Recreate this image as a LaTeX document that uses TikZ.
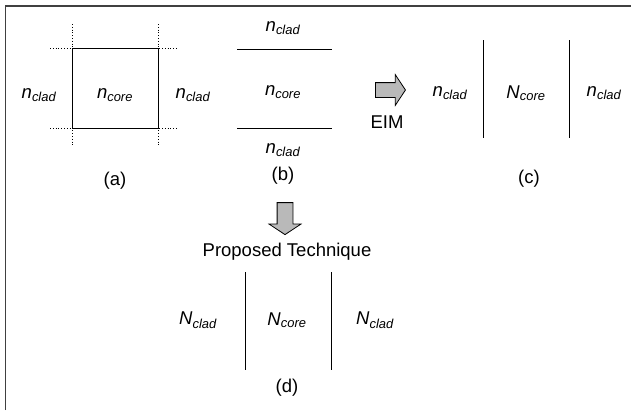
\documentclass[tikz,border=0pt]{standalone}
\usepackage{fontspec}
\setmainfont{Liberation Sans}
\usetikzlibrary{shapes,
                arrows,
                positioning}
\tikzset{index-text/.style =
   {inner sep=0pt,
    font=\fontsize{18.5}{20}\selectfont\itshape}}
\tikzset{caption-text/.style =
   {inner sep=0pt,
    font=\fontsize{18.5}{20}\selectfont}}
\tikzset{layer-line/.style =
   {draw,
    line width=1pt}}
\tikzset{guide-line/.style =
   {draw,
    dotted,
    line width=0.8pt}}
\tikzset{block-arrow/.style =
   {single arrow,
    draw,
    fill=gray!55,
    inner xsep=0pt,
    inner ysep=7pt,
    single arrow head extend=8pt,
    single arrow tip angle=113,
    line width=0.8pt}}
\newcommand{\ind}[2]{#1\textsubscript{#2}}

\begin{document}
\begin{tikzpicture}[x=1pt,y=-1pt]

    \useasboundingbox (0,0) rectangle (631,410);
    \draw [line width=1.5pt, black!75] (5.5,410) -- (5.5,6) -- (631,6);

    % (a)
    \draw [guide-line] (72,24) -- (72,146);
    \draw [guide-line] (158,24) -- (158,146);
    \draw [guide-line] (50,48) -- (178,48);
    \draw [guide-line] (50,128) -- (178,128);
    \draw [layer-line] (72,48) rectangle (158,128);
    \node [index-text] (a-left)  at (39,95)  {\ind{n}{clad}};
    \node [index-text] (a-core)  at (115,95) {\ind{n}{core}};
    \node [index-text] (a-right) at (193,95) {\ind{n}{clad}};
    \node [caption-text] (a-cap) at (115,181) {(a)};

    % (b)
    \draw [layer-line] (237,49) -- (332,49);
    \draw [layer-line] (237,128) -- (332,128);
    \node [index-text] (b-top)  at (283,28)  {\ind{n}{clad}};
    \node [index-text] (b-core) at (283,92)  {\ind{n}{core}};
    \node [index-text] (b-bot)  at (283,150) {\ind{n}{clad}};
    \node [caption-text] (b-cap) at (283,176) {(b)};

    % EIM
    \node [block-arrow,
           minimum height=30pt] (eim-arrow) at (388,90) {};
    \node [caption-text] (eim) at (387,122) {EIM};

    % (c)
    \draw [layer-line] (483,40) -- (483,138);
    \draw [layer-line] (569,40) -- (569,138);
    \node [index-text] (c-left)  at (450,93) {\ind{n}{clad}};
    \node [index-text] (c-core)  at (526,93) {\ind{N}{core}};
    \node [index-text] (c-right) at (604,93) {\ind{n}{clad}};
    \node [caption-text] (c-cap) at (529,179) {(c)};

    % proposed technique
    \node [block-arrow,
           shape border rotate=270,
           inner xsep=7.5pt,
           inner ysep=0pt,
           minimum height=32pt] (pt-arrow) at (285,216) {};
    \node [caption-text] (pt) at (287,252) {Proposed Technique};

    % (d)
    \draw [layer-line] (245,272) -- (245,370);
    \draw [layer-line] (331,272) -- (331,370);
    \node [index-text] (d-left)  at (198,320) {\ind{N}{clad}};
    \node [index-text] (d-core)  at (287,320) {\ind{N}{core}};
    \node [index-text] (d-right) at (375,320) {\ind{N}{clad}};
    \node [caption-text] (d-cap) at (287,388) {(d)};

\end{tikzpicture}
\end{document}
